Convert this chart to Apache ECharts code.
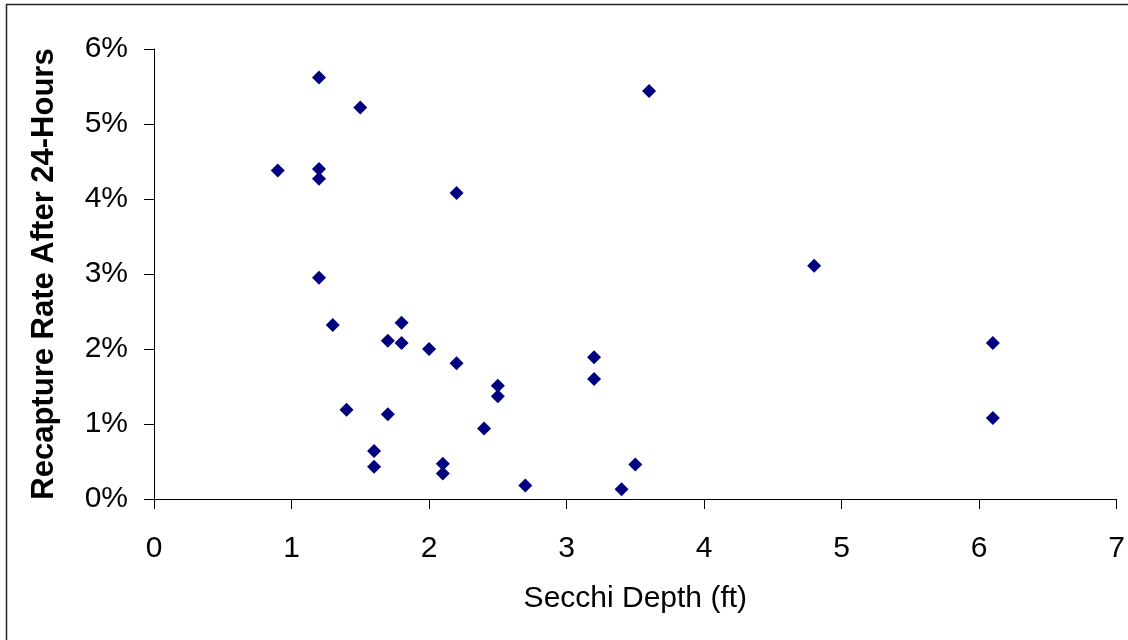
<!DOCTYPE html>
<html>
<head>
<meta charset="utf-8">
<script src="https://cdn.jsdelivr.net/npm/echarts@6/dist/echarts.min.js"></script>
<style>
  html, body { margin: 0; padding: 0; background: #fff; }
  #chart { width: 1128px; height: 640px; }
</style>
</head>
<body>
<div id="chart"></div>
<script>
// Secchi depth (ft) for each sampling event
const secchiDepth = [
  1.2, 1.5, 0.9, 1.2, 1.2, 2.2, 1.2, 3.6,
  1.3, 1.8, 1.7, 1.8, 2.0, 2.2, 2.5, 2.5,
  1.4, 1.7, 2.4, 1.6, 1.6, 2.1, 2.1, 2.7,
  3.2, 3.2, 3.5, 3.4, 4.8, 6.1, 6.1
];
// Recapture rate after 24 hours (%)
const recaptureRate = [
  5.62, 5.22, 4.38, 4.40, 4.27, 4.08, 2.95, 5.44,
  2.32, 2.35, 2.11, 2.08, 2.00, 1.81, 1.51, 1.37,
  1.19, 1.13, 0.94, 0.64, 0.43, 0.47, 0.34, 0.18,
  1.89, 1.60, 0.46, 0.13, 3.11, 2.08, 1.08
];
const xTitle = 'Secchi Depth (ft)';
const yTitle = 'Recapture Rate After 24-Hours';

const points = secchiDepth.map((d, i) => [d, recaptureRate[i]]);

const FONT = '"Liberation Sans", Arial, sans-serif';
const chart = echarts.init(document.getElementById('chart'), null, { renderer: 'canvas' });

chart.setOption({
  backgroundColor: '#ffffff',
  animation: false,
  graphic: [{
    type: 'rect',
    shape: { x: 6.5, y: 4.5, width: 1140, height: 660 },
    style: { fill: 'none', stroke: '#222', lineWidth: 1.5 },
    silent: true
  }],
  grid: { left: 154, right: 7, top: 49, bottom: 141 },
  xAxis: {
    type: 'value',
    min: 0, max: 7, interval: 1,
    name: xTitle,
    nameLocation: 'middle',
    nameGap: 85,
    nameTextStyle: { fontFamily: FONT, fontSize: 30, color: '#000' },
    axisLine: { onZero: false, lineStyle: { color: '#000', width: 1 } },
    axisTick: { show: true, length: 10, inside: false, lineStyle: { color: '#000' } },
    axisLabel: { fontFamily: FONT, fontSize: 30, color: '#000', margin: 35 },
    splitLine: { show: false }
  },
  yAxis: {
    type: 'value',
    min: 0, max: 6, interval: 1,
    name: yTitle,
    nameLocation: 'middle',
    nameGap: 94,
    nameRotate: 90,
    nameTextStyle: { fontFamily: FONT, fontSize: 31, fontWeight: 'bold', color: '#000' },
    axisLine: { show: true, lineStyle: { color: '#000', width: 1 } },
    axisTick: { show: true, length: 10, inside: false, lineStyle: { color: '#000' } },
    axisLabel: { fontFamily: FONT, fontSize: 30, color: '#000', margin: 26, formatter: '{value}%' },
    splitLine: { show: false }
  },
  series: [{
    type: 'scatter',
    data: points,
    symbol: 'diamond',
    symbolSize: 14,
    itemStyle: { color: '#000080', opacity: 1 }
  }]
});
</script>
</body>
</html>
